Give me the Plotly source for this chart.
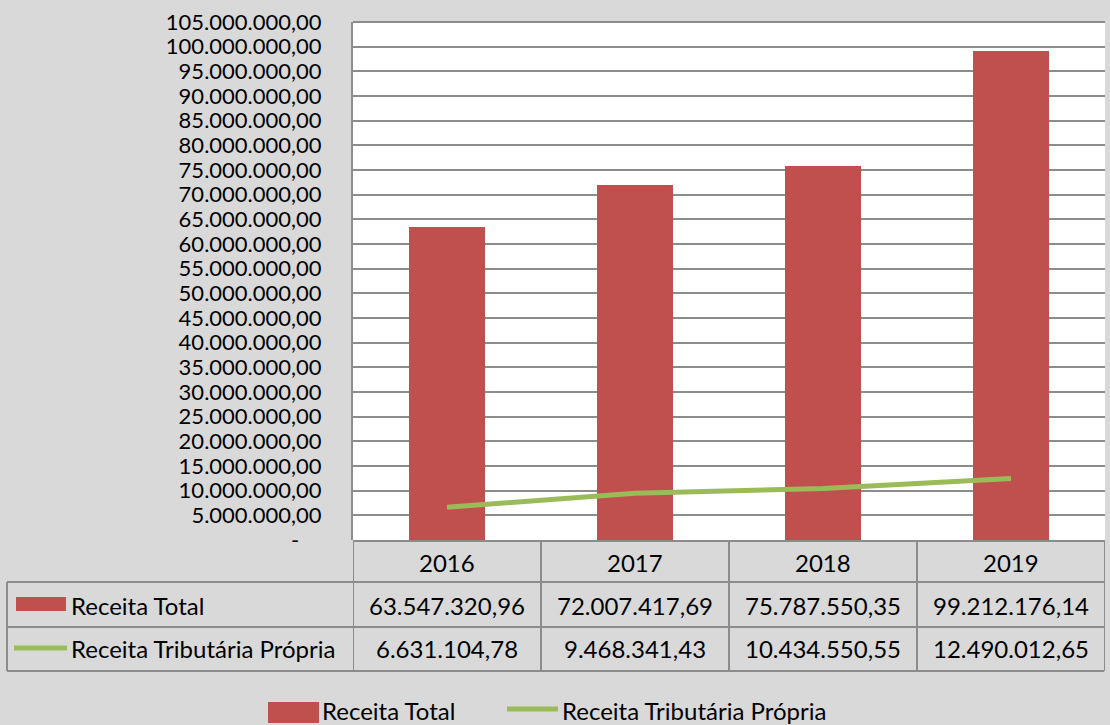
import plotly.graph_objects as go

# ---- data ----
anos = ["2016", "2017", "2018", "2019"]
receita_total = [63547320.96, 72007417.69, 75787550.35, 99212176.14]
receita_tributaria = [6631104.78, 9468341.43, 10434550.55, 12490012.65]
serie_nomes = ["Receita Total", "Receita Tributária Própria"]
y_ticks = list(range(0, 105000001, 5000000))

COR_BARRA = "#c0504d"
COR_LINHA = "#9bbb59"
COR_GRADE = "#8c8c8c"
FUNDO = "#d9d9d9"
FONTE = "Lato"

W, H = 1110, 725


def fmt(v):
    s = f"{v:,.2f}"
    return s.replace(",", "X").replace(".", ",").replace("X", ".")


def px(x):
    return x / W


def py(y):
    return 1 - y / H


ticktext = [fmt(v) if v else "-\u00a0\u00a0\u00a0\u00a0" for v in y_ticks]

fig = go.Figure()
fig.add_bar(x=anos, y=receita_total, name=serie_nomes[0],
            marker=dict(color=COR_BARRA, line=dict(width=0)), width=0.4)
fig.add_scatter(x=anos, y=receita_tributaria, name=serie_nomes[1], mode="lines",
                line=dict(color=COR_LINHA, width=5))

shapes = []
annotations = []
L = dict(color=COR_GRADE, width=2)
TF = dict(family=FONTE, size=24, color="#000000")

# top border of plot
shapes.append(dict(type="line", xref="x", yref="paper", x0=-0.5, x1=3.5,
                   y0=py(22), y1=py(22), line=L))
# table horizontal lines
shapes.append(dict(type="line", xref="x", yref="paper", x0=-0.5, x1=3.5,
                   y0=py(541), y1=py(541), line=L))
for yy in (582, 627, 671):
    shapes.append(dict(type="line", xref="paper", yref="paper", x0=px(7), x1=px(1104),
                       y0=py(yy), y1=py(yy), line=L))
# table vertical lines
for i in range(len(anos) + 1):
    shapes.append(dict(type="line", xref="x", yref="paper", x0=i - 0.5, x1=i - 0.5,
                       y0=py(541), y1=py(671), line=L))
shapes.append(dict(type="line", xref="paper", yref="paper", x0=px(7), x1=px(7),
                   y0=py(582), y1=py(671), line=L))

# table text
for i, a in enumerate(anos):
    annotations.append(dict(xref="x", yref="paper", x=i, y=py(562), text=a, font=TF,
                            showarrow=False, xanchor="center", yanchor="middle"))
    annotations.append(dict(xref="x", yref="paper", x=i, y=py(605), text=fmt(receita_total[i]),
                            font=TF, showarrow=False, xanchor="center", yanchor="middle"))
    annotations.append(dict(xref="x", yref="paper", x=i, y=py(648), text=fmt(receita_tributaria[i]),
                            font=TF, showarrow=False, xanchor="center", yanchor="middle"))

# row labels with keys
annotations.append(dict(xref="paper", yref="paper", x=px(69), y=py(605), text=serie_nomes[0],
                        font=TF, showarrow=False, xanchor="left", yanchor="middle"))
annotations.append(dict(xref="paper", yref="paper", x=px(69), y=py(648), text=serie_nomes[1],
                        font=TF, showarrow=False, xanchor="left", yanchor="middle"))
shapes.append(dict(type="rect", xref="paper", yref="paper", x0=px(16), x1=px(66),
                   y0=py(611), y1=py(597), fillcolor=COR_BARRA, line=dict(width=0)))
shapes.append(dict(type="line", xref="paper", yref="paper", x0=px(14), x1=px(67),
                   y0=py(648), y1=py(648), line=dict(color=COR_LINHA, width=5)))

# bottom legend
shapes.append(dict(type="rect", xref="paper", yref="paper", x0=px(268), x1=px(319),
                   y0=py(723), y1=py(702), fillcolor=COR_BARRA, line=dict(width=0)))
annotations.append(dict(xref="paper", yref="paper", x=px(320), y=py(710), text=serie_nomes[0],
                        font=TF, showarrow=False, xanchor="left", yanchor="middle"))
shapes.append(dict(type="line", xref="paper", yref="paper", x0=px(507), x1=px(558),
                   y0=py(709), y1=py(709), line=dict(color=COR_LINHA, width=5)))
annotations.append(dict(xref="paper", yref="paper", x=px(560), y=py(710), text=serie_nomes[1],
                        font=TF, showarrow=False, xanchor="left", yanchor="middle"))

fig.update_layout(
    width=W, height=H,
    margin=dict(l=0, r=0, t=0, b=0, autoexpand=False),
    paper_bgcolor=FUNDO, plot_bgcolor="white",
    showlegend=False,
    font=dict(family=FONTE, size=22, color="#000000"),
    bargap=0,
    shapes=shapes,
    annotations=annotations,
    xaxis=dict(type="category", domain=[px(353), px(1105)], range=[-0.5, 3.5],
               showticklabels=False, showgrid=False, showline=False, zeroline=False,
               ticks="", fixedrange=True, automargin=False),
    yaxis=dict(domain=[py(540), py(22)], range=[0, 105000000], tickvals=y_ticks,
               ticktext=ticktext, showgrid=True, gridcolor=COR_GRADE, gridwidth=2,
               showline=True, linecolor=COR_GRADE, linewidth=2, zeroline=False,
               ticks="", ticklabelstandoff=25, fixedrange=True, automargin=False,
               tickfont=dict(family=FONTE, size=22, color="#000000")),
)

fig.write_html("out.html", config={"displayModeBar": False},
               post_script="document.body.style.margin='0px';document.body.style.overflow='hidden';")
